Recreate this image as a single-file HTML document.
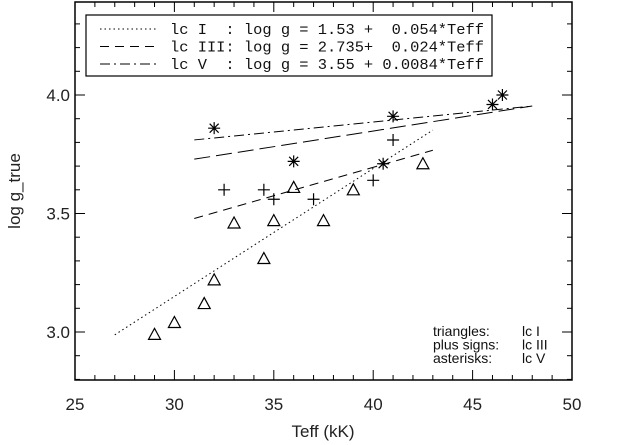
<!DOCTYPE html>
<html><head><meta charset="utf-8"><style>
body{margin:0;background:#fff}
svg{display:block;font-family:"Liberation Sans",sans-serif}
</style></head><body>
<svg id="c" width="624" height="445" viewBox="0 0 624 445"></svg>
<script>
const xTicks=[25,30,35,40,45,50];
const yTicks=[3.0,3.5,4.0];
const triT=[29,30,31.5,32,33,34.5,35,36,37.5,39,42.5];
const triG=[2.99,3.04,3.12,3.22,3.46,3.31,3.47,3.61,3.47,3.60,3.71];
const plusT=[32.5,34.5,35,37,40,41];
const plusG=[3.60,3.60,3.56,3.56,3.64,3.81];
const astT=[32,36,40.5,41,46,46.5];
const astG=[3.86,3.72,3.71,3.91,3.96,4.00];
const fitNames=["fit-lc-I","fit-lc-III","fit-lc-V","fit-extra"];
const fitA=[1.53,2.735,3.55,3.32];
const fitB=[0.054,0.024,0.0084,0.0132];
const fitT0=[27,31,31,31];
const fitT1=[43,43,48,48];
const fitDash=["1.5,3","9,6","10,4,2,4","16,6"];
const legendText=["lc I  : log g = 1.53 +  0.054*Teff","lc III: log g = 2.735+  0.024*Teff","lc V  : log g = 3.55 + 0.0084*Teff"];
const legendDash=["1.5,3","9,6","10,4,2,4"];

const X0=75,X1=572,Y0=380,Y1=2;
const sx=t=>X0+(t-25)*(X1-X0)/25;
const sy=g=>332-(g-3)*237;
const svg=document.getElementById('c');
const NS='http://www.w3.org/2000/svg';
function mk(tag,attrs,parent){const e=document.createElementNS(NS,tag);for(const k in attrs)e.setAttribute(k,attrs[k]);(parent||svg).appendChild(e);return e;}

const frame=mk('rect',{x:X0,y:Y1,width:X1-X0,height:Y0-Y1,fill:'none',stroke:'#000','stroke-width':1.5});



for(let t=25;t<=50;t+=1){
  const major=(t%5===0);const L=major?10:5;
  const a=mk('line',{x1:sx(t),x2:sx(t),y1:Y0,y2:Y0-L,stroke:'#000'});
  
  
  const b=mk('line',{x1:sx(t),x2:sx(t),y1:Y1,y2:Y1+L,stroke:'#000'});
  
  
}
for(let i=0;i<=16;i++){
  const g=2.8+i*0.1;const y=sy(g);if(y<Y1||y>Y0)continue;
  const major=Math.abs(g*2-Math.round(g*2))<1e-6;const L=major?10:5;
  const a=mk('line',{x1:X0,x2:X0+L,y1:y,y2:y,stroke:'#000'});
  
  
  const b=mk('line',{x1:X1,x2:X1-L,y1:y,y2:y,stroke:'#000'});
  
  
}
xTicks.forEach(t=>{
  const e=mk('text',{x:sx(t),y:410,'text-anchor':'middle','font-size':17,fill:'#222'});e.textContent=t;
  
  
});
yTicks.forEach(g=>{
  const e=mk('text',{x:70,y:sy(g)+6,'text-anchor':'end','font-size':17,fill:'#222'});e.textContent=g.toFixed(1);
  
  
});
const xt=mk('text',{x:323,y:437,'text-anchor':'middle','font-size':17,fill:'#222'});xt.textContent='Teff (kK)';


const yt=mk('text',{x:0,y:0,'text-anchor':'middle','font-size':17,fill:'#222',transform:'translate(20,191) rotate(-90)'});yt.textContent='log g_true';



fitA.forEach((a,i)=>{
  const t0=fitT0[i],t1=fitT1[i];
  const l=mk('line',{x1:sx(t0),y1:sy(a+fitB[i]*t0),x2:sx(t1),y2:sy(a+fitB[i]*t1),stroke:'#000','stroke-width':1,'stroke-dasharray':fitDash[i]});
  
  
});

triT.forEach((t,i)=>{
  const x=sx(t),y=sy(triG[i]);
  const p=mk('polygon',{points:`${x-6},${y+5} ${x+6},${y+5} ${x},${y-6}`,fill:'none',stroke:'#000','stroke-width':1.2});
  
  
});
plusT.forEach((t,i)=>{
  const x=sx(t),y=sy(plusG[i]);
  const p=mk('path',{d:`M${x-6},${y}H${x+6}M${x},${y-6}V${y+6}`,stroke:'#000','stroke-width':1.2});
  
  
});
astT.forEach((t,i)=>{
  const x=sx(t),y=sy(astG[i]);
  const p=mk('path',{d:`M${x-6},${y}H${x+6}M${x},${y-6}V${y+6}M${x-4.5},${y-4.5}L${x+4.5},${y+4.5}M${x-4.5},${y+4.5}L${x+4.5},${y-4.5}`,stroke:'#000','stroke-width':1.2});
  
  
});

const lb=mk('rect',{x:86,y:15,width:406,height:61,fill:'#fff',stroke:'#000','stroke-width':1.2});


legendText.forEach((s,i)=>{
  const y=29+i*17.5;
  const l=mk('line',{x1:100,x2:157,y1:y,y2:y,stroke:'#000','stroke-dasharray':legendDash[i]});
  
  
  const e=mk('text',{x:170,y:y+5,'font-size':15,'font-family':'Liberation Mono, monospace',textLength:314,lengthAdjust:'spacingAndGlyphs',fill:'#111'});
  e.style.whiteSpace='pre';e.textContent=s;
  
  
});
const notes=[["triangles:","lc I"],["plus signs:","lc III"],["asterisks:","lc V"]];
notes.forEach((n,i)=>{
  const y=336+i*13.5;
  const a=mk('text',{x:433,y:y,'font-size':14,fill:'#111'});a.textContent=n[0];
  
  
  const b=mk('text',{x:522,y:y,'font-size':14,fill:'#111'});b.textContent=n[1];
  
  
});
</script>
</body></html>
